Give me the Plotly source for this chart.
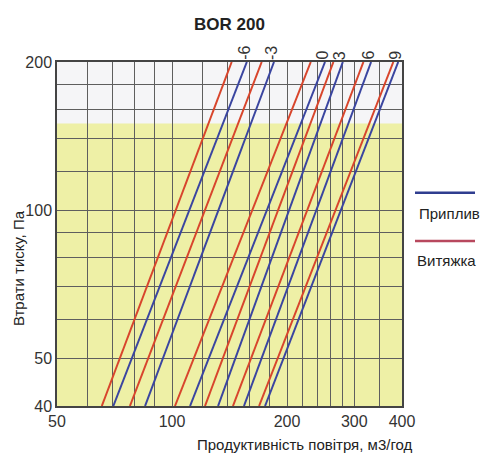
import math
import plotly.graph_objects as go

# ---- data ----
labels = ["-6", "-3", "0", "3", "6", "9"]
p_ends = [40, 200]                      # pressure loss, Pa (line end points)
supply_q40 = [70.2, 85.0, 111.5, 132.0, 154.3, 175.2]     # Приплив, m3/h at 40 Pa
supply_q200 = [157.0, 184.9, 251.5, 280.0, 332.0, 391.0]  # Приплив, m3/h at 200 Pa
exhaust_q40 = [65.5, 77.6, 101.8, 122.0, 144.4, 169.0]    # Витяжка, m3/h at 40 Pa
exhaust_q200 = [143.3, 171.7, 230.8, 264.5, 317.0, 379.6] # Витяжка, m3/h at 200 Pa
zone_top = 150                           # upper limit of yellow zone, Pa

x_ticks = [50, 60, 70, 80, 90, 100, 120, 140, 160, 180, 200, 220, 240, 260, 280, 300, 350, 400]
x_text = ["50", "", "", "", "", "100", "", "", "", "", "200", "", "", "", "", "300", "", "400"]
y_ticks = [40, 50, 60, 70, 80, 90, 100, 120, 140, 160, 180, 200]
y_text = ["40", "50", "", "", "", "", "100", "", "", "", "", "200"]

RED = "#d8452c"
BLUE = "#3a45a0"
FONT = "Liberation Sans, Arial, sans-serif"

fig = go.Figure()
for i in range(len(labels)):
    fig.add_trace(go.Scatter(x=[exhaust_q40[i], exhaust_q200[i]], y=p_ends, mode="lines",
                             line=dict(color=RED, width=2), showlegend=False, hoverinfo="skip"))
    fig.add_trace(go.Scatter(x=[supply_q40[i], supply_q200[i]], y=p_ends, mode="lines",
                             line=dict(color=BLUE, width=2), showlegend=False, hoverinfo="skip"))

# yellow zone
fig.add_shape(type="rect", xref="x", yref="y", x0=50, x1=400, y0=40, y1=zone_top,
              fillcolor="#eef0a6", line_width=0, layer="below")

annotations = []
for i, lab in enumerate(labels):
    # annotation positions on log axes are given in log10 units
    annotations.append(dict(x=math.log10(supply_q200[i]), y=math.log10(p_ends[1]),
                            xref="x", yref="y", text=lab,
                            showarrow=False, textangle=-90, xanchor="center", yanchor="bottom",
                            xshift=-3, yshift=0, font=dict(family=FONT, size=16, color="#333")))

def txt(x, y, t, size=15, angle=0, color="#222"):
    return dict(x=x, y=y, xref="paper", yref="paper", text=t, showarrow=False,
                xanchor="center", yanchor="middle", textangle=angle,
                font=dict(family=FONT, size=size, color=color))

annotations += [
    txt(0.5014, 1.1076, "<b>BOR 200</b>", size=17),
    txt(-0.113, 0.401, "Втрати тиску, Па", angle=-90),
    txt(0.719, -0.113, "Продуктивність повітря, м3/год"),
    txt(1.139, 0.561, "Приплив"),
    txt(1.130, 0.4244, "Витяжка"),
]

# legend swatches
fig.add_shape(type="line", xref="paper", yref="paper", x0=1.0377, x1=1.2116, y0=0.620, y1=0.620,
              line=dict(color="#2f3d8f", width=2.5))
fig.add_shape(type="line", xref="paper", yref="paper", x0=1.0377, x1=1.2116, y0=0.4797, y1=0.4797,
              line=dict(color="#b8485e", width=2.5))

axis_common = dict(showgrid=True, gridcolor="#5e5e5e", gridwidth=1.2, zeroline=False,
                   showline=True, linecolor="#444", linewidth=1.5, mirror=True, ticks="",
                   tickfont=dict(family=FONT, size=16, color="#333"))

fig.update_layout(
    width=492, height=453,
    margin=dict(l=49, r=98, t=54, b=55),
    paper_bgcolor="white", plot_bgcolor="#f5f5f7",
    annotations=annotations,
    xaxis=dict(type="log", range=[1.69897, 2.60206], tickmode="array", tickvals=x_ticks,
               ticktext=x_text, **axis_common),
    yaxis=dict(type="log", range=[1.60206, 2.30103], tickmode="array", tickvals=y_ticks,
               ticktext=y_text, **axis_common),
)

fig.write_html("out.html")
